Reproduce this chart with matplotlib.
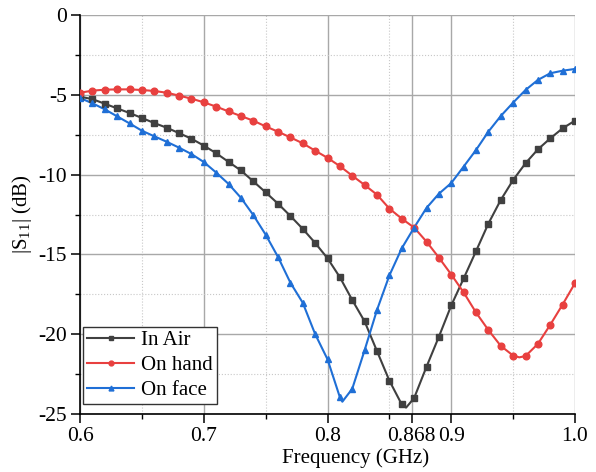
import numpy as np
import matplotlib
matplotlib.use("Agg")
import matplotlib.pyplot as plt
from matplotlib.ticker import FixedLocator, MultipleLocator

plt.rcParams['font.family'] = ['Liberation Serif', 'DejaVu Serif']
plt.rcParams['mathtext.fontset'] = 'custom'
plt.rcParams['mathtext.rm'] = 'Liberation Serif'
plt.rcParams['mathtext.default'] = 'regular'
plt.rcParams['axes.unicode_minus'] = False

freq = [0.60, 0.61, 0.62, 0.63, 0.64, 0.65, 0.66, 0.67, 0.68, 0.69,
        0.70, 0.71, 0.72, 0.73, 0.74, 0.75, 0.76, 0.77, 0.78, 0.79,
        0.80, 0.81, 0.82, 0.83, 0.84, 0.85, 0.86, 0.87, 0.88, 0.89,
        0.90, 0.91, 0.92, 0.93, 0.94, 0.95, 0.96, 0.97, 0.98, 0.99, 1.00]

in_air = [-5.12, -5.27, -5.56, -5.85, -6.14, -6.45, -6.77, -7.06, -7.40, -7.75,
          -8.18, -8.66, -9.20, -9.74, -10.42, -11.11, -11.82, -12.59, -13.40, -14.28,
          -15.24, -16.43, -17.86, -19.20, -21.06, -22.91, -24.40, -24.00, -22.04, -20.16,
          -18.20, -16.51, -14.80, -13.07, -11.59, -10.34, -9.29, -8.42, -7.73, -7.10, -6.62]
in_air_min = (0.8635, -24.6)

on_hand = [-4.87, -4.74, -4.68, -4.66, -4.66, -4.70, -4.76, -4.87, -5.05, -5.24,
           -5.47, -5.74, -6.04, -6.33, -6.62, -6.98, -7.31, -7.67, -8.04, -8.50,
           -8.95, -9.47, -10.07, -10.65, -11.26, -12.13, -12.76, -13.32, -14.20, -15.20,
           -16.26, -17.38, -18.64, -19.74, -20.73, -21.34, -21.37, -20.61, -19.41, -18.14, -16.80]
on_hand_min = (0.955, -21.45)

on_face = [-5.20, -5.53, -5.91, -6.35, -6.79, -7.25, -7.60, -7.94, -8.31, -8.71,
           -9.21, -9.87, -10.58, -11.45, -12.53, -13.76, -15.16, -16.77, -18.03, -19.99,
           -21.57, -23.95, -23.42, -21.00, -18.48, -16.32, -14.62, -13.32, -12.09, -11.20,
           -10.53, -9.50, -8.46, -7.31, -6.33, -5.49, -4.70, -4.07, -3.65, -3.49, -3.38]
on_face_min = (0.812, -24.23)

labels = ["In Air", "On hand", "On face"]
xticks = [0.6, 0.7, 0.8, 0.868, 0.9, 1.0]
xticklabels = ["0.6", "0.7", "0.8", "0.868", "0.9", "1.0"]
yticks = [0, -5, -10, -15, -20, -25]

colors = ["#404040", "#E8403F", "#1F6FD6"]
markers = ["s", "o", "^"]

fig = plt.figure(figsize=(5.96, 4.72), dpi=100)
ax = fig.add_axes([80/596, 1-414/472, 495/596, 399/472])

for ys, mn, lab, c, m in zip([in_air, on_hand, on_face],
                             [in_air_min, on_hand_min, on_face_min],
                             labels, colors, markers):
    xs = list(freq) + [mn[0]]
    yv = list(ys) + [mn[1]]
    order = np.argsort(xs)
    xl = np.array(xs)[order]
    yl = np.array(yv)[order]
    ax.plot(xl, yl, color=c, lw=1.5, zorder=3)
    ax.plot(freq, ys, color=c, lw=0, marker=m, ms=4.8, zorder=4)
    ax.plot([], [], color=c, lw=1.5, marker=m, ms=3.5, label=lab)

ax.set_xlim(0.6, 1.0)
ax.set_ylim(-25, 0)
ax.xaxis.set_major_locator(FixedLocator(xticks))
ax.set_xticklabels(xticklabels)
ax.xaxis.set_minor_locator(FixedLocator([0.65, 0.75, 0.85, 0.95]))
ax.yaxis.set_major_locator(FixedLocator(yticks))
ax.yaxis.set_minor_locator(MultipleLocator(2.5))

ax.grid(which='major', color='#a8a8a8', lw=1.0, ls='-', zorder=0)
ax.grid(which='minor', color='#c8c8c8', lw=0.8, ls=':', zorder=0)

for s in ['top', 'right']:
    ax.spines[s].set_visible(False)
for s in ['left', 'bottom']:
    ax.spines[s].set_linewidth(1.2)
    ax.spines[s].set_color('black')

ax.tick_params(which='major', direction='out', length=6.5, width=1.1, labelsize=15.5, pad=3)
ax.tick_params(which='minor', direction='out', length=3.5, width=1.0)

ax.set_xlabel("Frequency (GHz)", fontsize=15, labelpad=2)
ax.xaxis.set_label_coords((356 - 80) / 495, -0.085)
ax.set_ylabel("|S$_{11}$| (dB)", fontsize=15, labelpad=3)

leg = ax.legend(loc='lower left', bbox_to_anchor=(3/495, 10/399), borderaxespad=0,
                fontsize=15, frameon=True, fancybox=False,
                edgecolor='#333333', framealpha=1, borderpad=0.2, labelspacing=0.25,
                handlelength=2.25, handletextpad=0.35)
leg.get_frame().set_linewidth(1.0)

fig.savefig("out.png", dpi=100)
